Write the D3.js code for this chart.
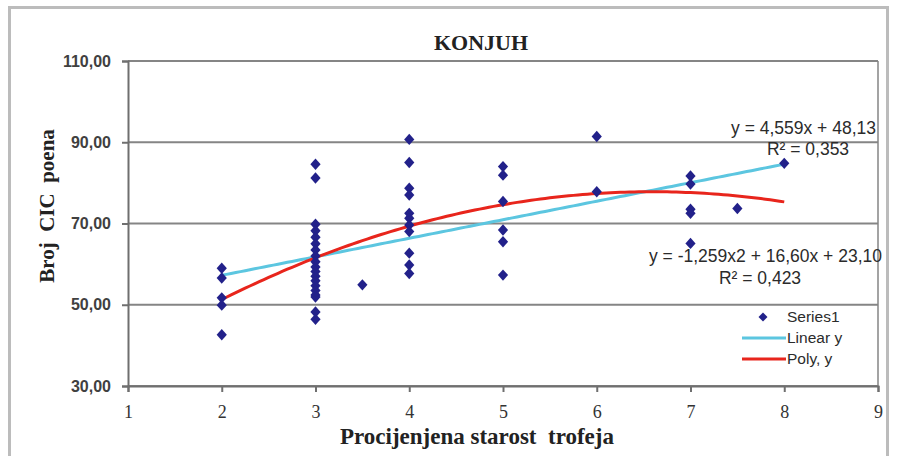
<!DOCTYPE html>
<html>
<head>
<meta charset="utf-8">
<script src="https://cdn.jsdelivr.net/npm/d3@7"></script>
<style>
  body { margin: 0; background: #fff; }
  svg { display: block; }
</style>
</head>
<body>
<script>
// ages (x) and CIC points (y), one pair per trophy
const ages = [2, 2, 2, 2, 2,
  3, 3, 3, 3, 3, 3, 3, 3, 3, 3, 3, 3, 3, 3, 3, 3, 3, 3, 3,
  3.5,
  4, 4, 4, 4, 4, 4, 4, 4, 4, 4, 4,
  5, 5, 5, 5, 5, 5,
  6, 6,
  7, 7, 7, 7, 7,
  7.5,
  8];
const points = [59.0, 56.6, 51.7, 49.9, 42.6,
  84.6, 81.2, 69.8, 68.2, 66.6, 65.0, 63.5, 62.0, 60.6, 59.3, 58.2, 57.0, 55.9, 54.7, 53.5, 52.4, 51.9, 48.2, 46.4,
  54.9,
  90.7, 85.0, 78.7, 77.0, 72.5, 71.3, 69.6, 68.0, 62.7, 59.8, 57.7,
  84.0, 81.9, 75.4, 68.4, 65.5, 57.3,
  91.4, 77.8,
  81.7, 79.7, 73.5, 72.5, 65.1,
  73.7,
  84.8];

const xTicks = [1, 2, 3, 4, 5, 6, 7, 8, 9];
const yTicks = [30, 50, 70, 90, 110];

// trendline coefficients as printed on the chart
const linCoef = [48.13, 4.559];          // a + b*x
const polyCoef = [23.10, 16.60, -1.259]; // a + b*x + c*x^2
const trendX = d3.range(2, 8.001, 0.05);

const width = 899, height = 456;
const m = { left: 128, right: 21, top: 61, bottom: 70 };

const svg = d3.select("body").append("svg")
  .attr("width", width)
  .attr("height", height);

// outer frame
svg.append("rect")
  .attr("x", 9.5).attr("y", 7.5)
  .attr("width", 878).attr("height", 460)
  .attr("fill", "none")
  .attr("stroke", "#bcbcbc")
  .attr("stroke-width", 3);

const x = d3.scaleLinear().domain([1, 9]).range([m.left, width - m.right]);
const y = d3.scaleLinear().domain([30, 110]).range([height - m.bottom, m.top]);

// horizontal grid
svg.append("g").selectAll("line")
  .data(yTicks)
  .enter().append("line")
  .attr("x1", x(1)).attr("x2", x(9))
  .attr("y1", d => y(d)).attr("y2", d => y(d))
  .attr("stroke", "#858585")
  .attr("stroke-width", 2);

// right border of plot area
svg.append("line")
  .attr("x1", x(9)).attr("x2", x(9))
  .attr("y1", y(110)).attr("y2", y(30))
  .attr("stroke", "#858585").attr("stroke-width", 1.5);

const fmt = d => d.toFixed(2).replace(".", ",");

const yAxis = svg.append("g")
  .attr("transform", `translate(${x(1)},0)`)
  .call(d3.axisLeft(y).tickValues(yTicks).tickSize(6).tickPadding(11).tickFormat(fmt));
yAxis.select(".domain").attr("stroke", "#6f6f6f").attr("stroke-width", 2);
yAxis.selectAll(".tick line").attr("stroke", "#6f6f6f").attr("stroke-width", 2);
yAxis.selectAll("text")
  .style("font-family", "'Liberation Sans', Arial, sans-serif")
  .style("font-size", "16px")
  .style("font-weight", "bold")
  .attr("fill", "#404040");

const xAxis = svg.append("g")
  .attr("transform", `translate(0,${y(30)})`)
  .call(d3.axisBottom(x).tickValues(xTicks).tickSize(6).tickPadding(13).tickFormat(d3.format("d")));
xAxis.select(".domain").attr("stroke", "#6f6f6f").attr("stroke-width", 2);
xAxis.selectAll(".tick line").attr("stroke", "#6f6f6f").attr("stroke-width", 2);
xAxis.selectAll("text")
  .style("font-family", "'Liberation Serif', 'Times New Roman', serif")
  .style("font-size", "18px")
  .attr("fill", "#333");

// trendlines
const line = d3.line().x(d => x(d[0])).y(d => y(d[1]));
const linPts = trendX.map(t => [t, linCoef[0] + linCoef[1] * t]);
const polyPts = trendX.map(t => [t, polyCoef[0] + polyCoef[1] * t + polyCoef[2] * t * t]);

svg.append("path").datum(linPts)
  .attr("d", line).attr("fill", "none")
  .attr("stroke", "#5cc6e0").attr("stroke-width", 3);
svg.append("path").datum(polyPts)
  .attr("d", line).attr("fill", "none")
  .attr("stroke", "#e8251c").attr("stroke-width", 3);

// data points: square turned 45 degrees, a little taller than wide
const diamond = d3.symbol().type(d3.symbolSquare).size(52);
svg.append("g").selectAll("path")
  .data(ages.map((a, i) => [a, points[i]]))
  .enter().append("path")
  .attr("d", diamond)
  .attr("transform", d => `translate(${x(d[0])},${y(d[1])}) scale(1,1.12) rotate(45)`)
  .attr("fill", "#22218a");

// title and axis labels
const serif = "'Liberation Serif', 'Times New Roman', serif";
svg.append("text")
  .attr("x", 481).attr("y", 50)
  .attr("text-anchor", "middle")
  .style("font-family", serif)
  .style("font-weight", "bold").style("font-size", "22px")
  .attr("fill", "#222")
  .text("KONJUH");

svg.append("text")
  .attr("transform", "translate(54,206) rotate(-90)")
  .attr("text-anchor", "middle")
  .style("font-family", serif)
  .style("font-weight", "bold").style("font-size", "21px")
  .style("white-space", "pre")
  .attr("fill", "#222")
  .text("Broj  CIC  poena");

svg.append("text")
  .attr("x", 477).attr("y", 444)
  .attr("text-anchor", "middle")
  .style("font-family", serif)
  .style("font-weight", "bold").style("font-size", "23px")
  .style("white-space", "pre")
  .attr("fill", "#222")
  .text("Procijenjena starost  trofeja");

// trendline equations
const eqFont = "'Liberation Sans', Arial, sans-serif";
const eqs = [
  { tx: 876, ty: 134, anchor: "end", t: "y = 4,559x + 48,13" },
  { tx: 808, ty: 155, anchor: "middle", t: "R² = 0,353" },
  { tx: 882, ty: 262, anchor: "end", t: "y = -1,259x2 + 16,60x + 23,10" },
  { tx: 760, ty: 284, anchor: "middle", t: "R² = 0,423" }
];
svg.append("g").selectAll("text")
  .data(eqs)
  .enter().append("text")
  .attr("x", d => d.tx).attr("y", d => d.ty)
  .attr("text-anchor", d => d.anchor)
  .style("font-family", eqFont).style("font-size", "17.5px")
  .attr("fill", "#2b2b2b")
  .text(d => d.t);

// legend
const legend = svg.append("g").attr("transform", "translate(742,317)");
const legendItems = ["Series1", "Linear y", "Poly, y"];
const legendColors = ["#22218a", "#5cc6e0", "#e8251c"];
legendItems.forEach((name, i) => {
  const g = legend.append("g").attr("transform", `translate(0,${i * 21})`);
  if (i === 0) {
    g.append("path").attr("d", d3.symbol().type(d3.symbolSquare).size(40))
      .attr("transform", "translate(21,0) rotate(45)").attr("fill", legendColors[i]);
  } else {
    g.append("line").attr("x1", 0).attr("x2", 44).attr("y1", 0).attr("y2", 0)
      .attr("stroke", legendColors[i]).attr("stroke-width", 3);
  }
  g.append("text")
    .attr("x", 45).attr("y", 5)
    .style("font-family", eqFont).style("font-size", "15.5px")
    .attr("fill", "#2b2b2b")
    .text(name);
});
</script>
</body>
</html>
